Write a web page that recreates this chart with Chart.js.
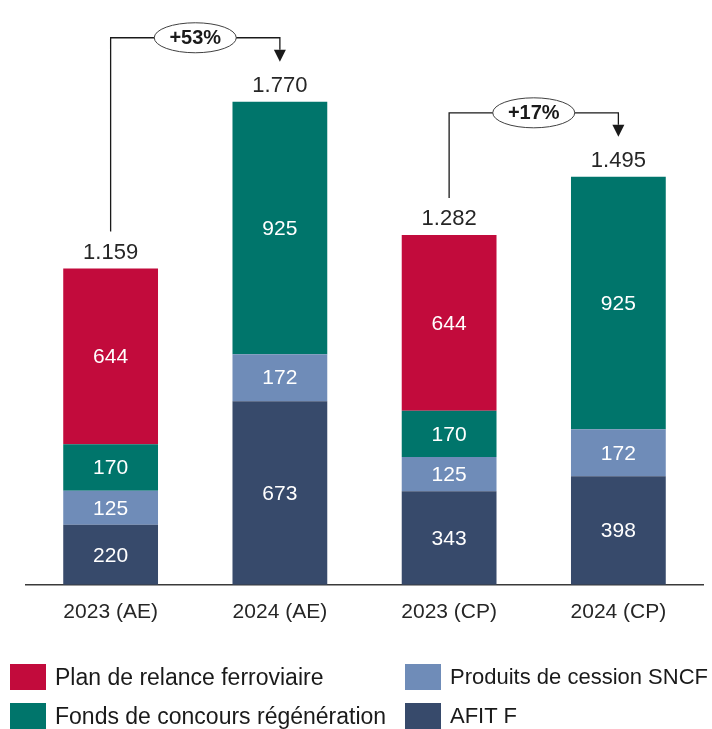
<!DOCTYPE html>
<html lang="fr">
<head>
<meta charset="utf-8">
<title>AE / CP 2023-2024</title>
<script src="https://cdn.jsdelivr.net/npm/chart.js@4"></script>
<style>
  html, body { margin: 0; padding: 0; background: #fff; }
  .wrap { position: relative; width: 712px; height: 729px; overflow: hidden; }
  .legend { position: absolute; left: 0; top: 0; font-family: "Liberation Sans", Arial, sans-serif; font-size: 23px; color: #1a1a1a; }
  .legend .item { position: absolute; white-space: nowrap; display: flex; align-items: center; height: 26px; }
  .legend .box { width: 36px; height: 26px; margin-right: 9px; }
</style>
</head>
<body>
<div class="wrap">
  <canvas id="chart" width="712" height="729"></canvas>
  <div class="legend" id="legend"></div>
</div>

<script>
  // donnees
  var categories = ['2023 (AE)', '2024 (AE)', '2023 (CP)', '2024 (CP)'];
  var afitF      = [220, 673, 343, 398];
  var produits   = [125, 172, 125, 172];
  var fonds      = [170, 925, 170, 925];
  var relance    = [644, 0, 644, 0];
  // comparaisons : [de, vers]
  var comparisons = [[0, 1], [2, 3]];

  var colors = {
    relance:  '#C20B3C',
    produits: '#6F8CB8',
    fonds:    '#00756B',
    afit:     '#374A6B'
  };

  var totals = categories.map(function (c, i) {
    return afitF[i] + produits[i] + fonds[i] + relance[i];
  });

  function fmt(n) {
    return String(n).replace(/\B(?=(\d{3})+(?!\d))/g, '.');
  }

  var FONT = '"Liberation Sans", Arial, sans-serif';

  var labelsPlugin = {
    id: 'labelsPlugin',
    afterDatasetsDraw: function (chart) {
      var ctx = chart.ctx;
      ctx.save();
      ctx.textAlign = 'center';
      ctx.textBaseline = 'middle';
      // valeurs dans les segments
      ctx.font = '21px ' + FONT;
      ctx.fillStyle = '#ffffff';
      chart.data.datasets.forEach(function (ds, di) {
        var meta = chart.getDatasetMeta(di);
        meta.data.forEach(function (bar, i) {
          if (!ds.data[i]) return;
          ctx.fillText(ds.data[i], bar.x, (bar.y + bar.base) / 2 + 1);
        });
      });
      // totaux
      var xs = chart.scales.x, ys = chart.scales.y;
      ctx.font = '22px ' + FONT;
      ctx.fillStyle = '#262626';
      totals.forEach(function (t, i) {
        ctx.fillText(fmt(t), xs.getPixelForValue(i), ys.getPixelForValue(t) - 16);
      });
      // fleches
      ctx.strokeStyle = '#1a1a1a';
      ctx.fillStyle = '#1a1a1a';
      ctx.lineWidth = 1.3;
      comparisons.forEach(function (c) {
        var x0 = xs.getPixelForValue(c[0]);
        var x1 = xs.getPixelForValue(c[1]);
        var y0 = ys.getPixelForValue(totals[c[0]]) - 37;
        var top = Math.min(ys.getPixelForValue(totals[c[0]]), ys.getPixelForValue(totals[c[1]]));
        var yl = top - 64;
        var tip = ys.getPixelForValue(totals[c[1]]) - 40;
        ctx.beginPath();
        ctx.moveTo(x0, y0);
        ctx.lineTo(x0, yl);
        ctx.lineTo(x1, yl);
        ctx.lineTo(x1, tip - 12);
        ctx.stroke();
        ctx.beginPath();
        ctx.moveTo(x1 - 6, tip - 12);
        ctx.lineTo(x1 + 6, tip - 12);
        ctx.lineTo(x1, tip);
        ctx.closePath();
        ctx.fill();
        var xm = (x0 + x1) / 2;
        ctx.beginPath();
        ctx.ellipse(xm, yl, 41, 15, 0, 0, Math.PI * 2);
        ctx.fillStyle = '#ffffff';
        ctx.fill();
        ctx.lineWidth = 1;
        ctx.strokeStyle = '#404040';
        ctx.stroke();
        ctx.fillStyle = '#1a1a1a';
        ctx.font = 'bold 20px ' + FONT;
        var pct = Math.round((totals[c[1]] / totals[c[0]] - 1) * 100);
        ctx.fillText('+' + pct + '%', xm, yl + 1);
        ctx.strokeStyle = '#1a1a1a';
        ctx.lineWidth = 1.3;
      });
      ctx.restore();
    }
  };

  var config = {
    type: 'bar',
    data: {
      labels: categories,
      datasets: [
        { label: 'AFIT F', data: afitF, backgroundColor: colors.afit },
        { label: 'Produits de cession SNCF', data: produits, backgroundColor: colors.produits },
        { label: 'Fonds de concours régénération', data: fonds, backgroundColor: colors.fonds },
        { label: 'Plan de relance ferroviaire', data: relance, backgroundColor: colors.relance }
      ]
    },
    options: {
      responsive: false,
      animation: false,
      layout: { padding: { left: 26, right: 9, top: 39, bottom: 97 } },
      datasets: { bar: { categoryPercentage: 1, barPercentage: 0.56 } },
      plugins: { legend: { display: false }, tooltip: { enabled: false } },
      scales: {
        x: {
          stacked: true,
          grid: { display: false },
          border: { display: true, color: '#3a3a3a', width: 1.5 },
          ticks: { color: '#262626', font: { family: FONT, size: 21 }, padding: 7 }
        },
        y: {
          stacked: true,
          display: false,
          min: 0,
          max: 2000
        }
      }
    },
    plugins: [labelsPlugin]
  };

  window.onload = function () {
    var ctx = document.getElementById('chart').getContext('2d');
    window.myChart = new Chart(ctx, config);

    // legende (2 colonnes)
    var legendItems = [
      { text: 'Plan de relance ferroviaire', color: colors.relance, left: 10, top: 664, size: 23 },
      { text: 'Produits de cession SNCF', color: colors.produits, left: 405, top: 664, size: 22 },
      { text: 'Fonds de concours régénération', color: colors.fonds, left: 10, top: 703, size: 23 },
      { text: 'AFIT F', color: colors.afit, left: 405, top: 703, size: 22 }
    ];
    var legend = document.getElementById('legend');
    legendItems.forEach(function (it) {
      var d = document.createElement('div');
      d.className = 'item';
      d.style.left = it.left + 'px';
      d.style.top = it.top + 'px';
      d.style.fontSize = it.size + 'px';
      var b = document.createElement('span');
      b.className = 'box';
      b.style.background = it.color;
      var t = document.createElement('span');
      t.textContent = it.text;
      d.appendChild(b);
      d.appendChild(t);
      legend.appendChild(d);
    });
  };
</script>
</body>
</html>
